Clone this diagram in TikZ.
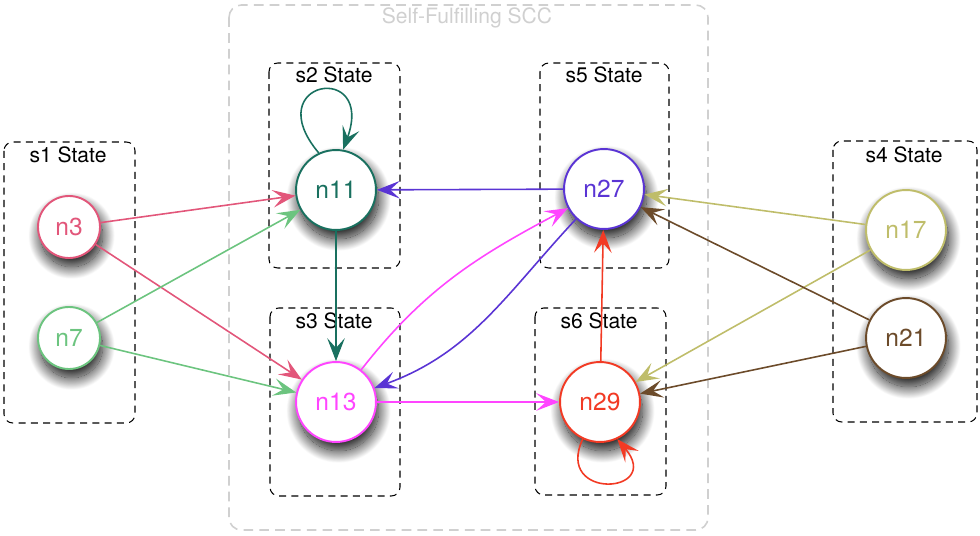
\documentclass[tikz,border=0pt]{standalone}
\usepackage{fontspec}
\setmainfont{TeX Gyre Heros}
\usetikzlibrary{arrows.meta,shadows.blur}
\definecolor{rosered}{HTML}{E2567A}
\definecolor{leafgreen}{HTML}{6CC47F}
\definecolor{deepteal}{HTML}{19705F}
\definecolor{hotpink}{HTML}{FF45FF}
\definecolor{indigoblue}{HTML}{5A34D4}
\definecolor{scarlet}{HTML}{F23A24}
\definecolor{khaki}{HTML}{BFBD6A}
\definecolor{umber}{HTML}{6C4B2A}
\definecolor{sccgray}{HTML}{D0D0D0}
\begin{document}
\begin{tikzpicture}[x=0.02cm,y=0.02cm,
  statebox/.style={draw,line width=0.6pt,dash pattern=on 4pt off 3pt,rounded corners=5pt},
  lbl/.style={font=\fontsize{12}{14}\selectfont},
  vtx/.style={circle,draw=#1,text=#1,fill=white,line width=1.1pt,inner sep=0pt,
    font=\fontsize{14}{16}\selectfont,
    blur shadow={shadow xshift=1.5pt,shadow yshift=-5pt,shadow blur radius=7pt,
      shadow blur steps=30,shadow opacity=95}},
  small/.style={minimum size=35.3pt},
  big/.style={minimum size=45.5pt},
  flow/.style={draw=#1,line width=0.9pt,-{Stealth[length=13pt,width=10pt,inset=5.5pt]}}]
\useasboundingbox (0,0) rectangle (980,535);
% the component and its states
\draw[sccgray,line width=0.9pt,dash pattern=on 5.5pt off 3.5pt,rounded corners=7pt] (229,530) rectangle (708,5);
\node[lbl,text=sccgray] (scclab) at (467,517) {Self-Fulfilling SCC};
\draw[statebox] (4,393) rectangle (135,112);
\node[lbl] (s1lab) at (68,380) {s1 State};
\draw[statebox] (269,472) rectangle (400,267);
\node[lbl] (s2lab) at (334,460) {s2 State};
\draw[statebox] (270,227) rectangle (400,39);
\node[lbl] (s3lab) at (334,214) {s3 State};
\draw[statebox] (540,472) rectangle (669,267);
\node[lbl] (s5lab) at (604,460) {s5 State};
\draw[statebox] (535,227) rectangle (666,40);
\node[lbl] (s6lab) at (599,214) {s6 State};
\draw[statebox] (833,394) rectangle (977,113);
\node[lbl] (s4lab) at (904,380) {s4 State};
% nodes
\node[vtx=rosered,small] (n3) at (69,308) {n3};
\node[vtx=leafgreen,small] (n7) at (69,197) {n7};
\node[vtx=deepteal,big] (n11) at (336,345) {n11};
\node[vtx=hotpink,big] (n13) at (336,133) {n13};
\node[vtx=indigoblue,big] (n27) at (604,346) {n27};
\node[vtx=scarlet,big] (n29) at (600,133) {n29};
\node[vtx=khaki,big] (n17) at (906,305) {n17};
\node[vtx=umber,big] (n21) at (906,197) {n21};
% transitions
\draw[flow=rosered] (n3) -- (n11);
\draw[flow=rosered] (n3) -- (n13);
\draw[flow=leafgreen] (n7) -- (n11);
\draw[flow=leafgreen] (n7) -- (n13);
\draw[flow=deepteal] (n11.115) .. controls +(130:95) and +(70:95) .. (n11.80);
\draw[flow=deepteal] (n11) -- (n13);
\draw[flow=indigoblue] (n27) -- (n11);
\draw[flow=indigoblue] (n27) to[out=227,in=20] (n13);
\draw[flow=hotpink] (n13) to[out=52,in=208] (n27);
\draw[flow=hotpink] (n13) -- (n29);
\draw[flow=scarlet] (n29) -- (n27);
\draw[flow=scarlet] (n29.245) .. controls +(245:68) and +(310:72) .. (n29.295);
\draw[flow=khaki] (n17) -- (n27);
\draw[flow=khaki] (n17) -- (n29);
\draw[flow=umber] (n21) -- (n27);
\draw[flow=umber] (n21) -- (n29);
\end{tikzpicture}
\end{document}
